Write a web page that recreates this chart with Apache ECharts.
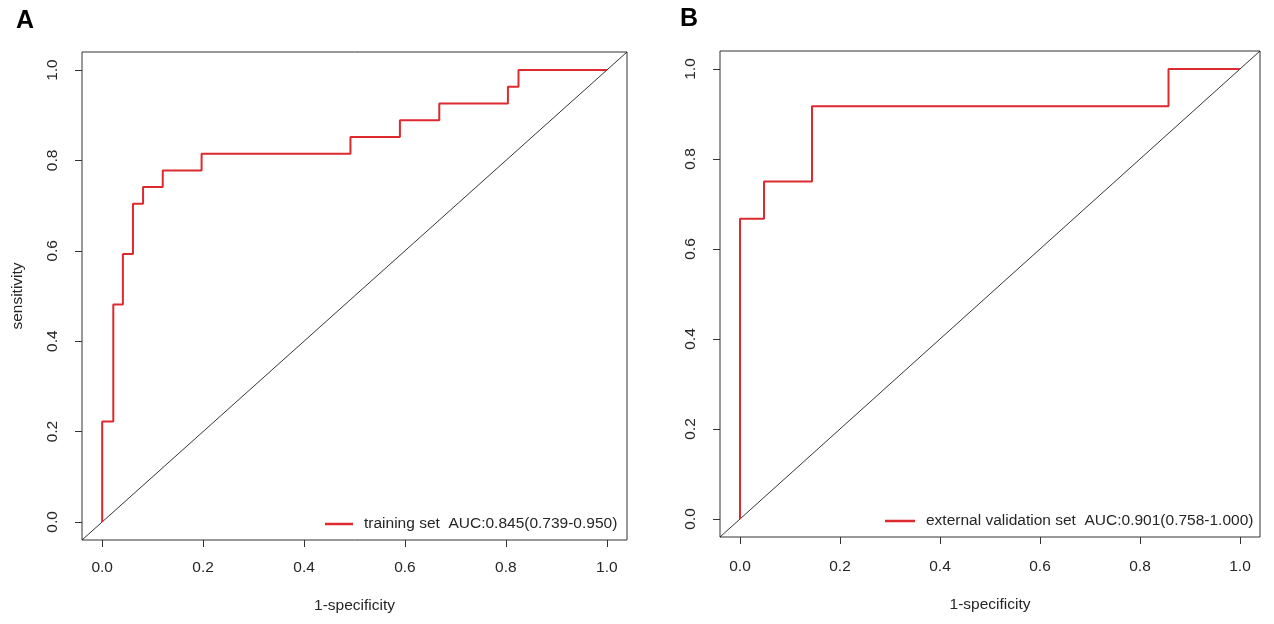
<!DOCTYPE html>
<html>
<head>
<meta charset="utf-8">
<title>ROC curves</title>
<script src="https://cdn.jsdelivr.net/npm/echarts@6/dist/echarts.min.js"></script>
<style>
  html, body { margin: 0; padding: 0; background: #fff; }
  #chart { width: 1274px; height: 624px; }
</style>
</head>
<body>
<div id="chart"></div>
<script>
// 训练集 ROC 曲线（1-特异度 / 灵敏度 的阶梯拐点）
const trainFpr = [0, 0, 0.022, 0.041, 0.061, 0.081, 0.12, 0.197, 0.492, 0.59, 0.668, 0.804, 0.825, 1.0];
const trainTpr = [0, 0.222, 0.481, 0.593, 0.704, 0.741, 0.778, 0.815, 0.852, 0.889, 0.926, 0.963, 1.0, 1.0];
// 外部验证集 ROC 曲线
const validFpr = [0, 0, 0.048, 0.144, 0.857, 1.0];
const validTpr = [0, 0.667, 0.75, 0.917, 1.0, 1.0];
// 参考对角线（跨越整个坐标范围）
const diagVals = [-0.04, 1.04];
// 刻度
const tickVals = [0, 0.2, 0.4, 0.6, 0.8, 1.0];
const trainName = 'training set  AUC:0.845(0.739-0.950)';
const validName = 'external validation set  AUC:0.901(0.758-1.000)';

const FONT = '"Liberation Sans", Arial, sans-serif';
const FS = 15.5;
const TXT = '#262626';
const ROC_RED = '#dc2a2e';

function pairs(xs, ys) {
    return xs.map((x, i) => [x, ys[i]]);
}

// 坐标轴模板：R 风格，外侧刻度，旋转的 y 轴标签
function xAxisOpt(gridIndex, labelMargin, nameGap) {
    return {
        type: 'value', gridIndex: gridIndex, min: -0.04, max: 1.04, position: 'bottom',
        name: '1-specificity', nameLocation: 'middle', nameGap: nameGap,
        nameTextStyle: { color: TXT, fontSize: FS, fontFamily: FONT },
        axisLine: { show: false, onZero: false },
        axisTick: { show: true, inside: false, length: 7, customValues: tickVals, lineStyle: { color: '#333', width: 1 } },
        axisLabel: { show: true, customValues: tickVals, margin: labelMargin, color: TXT, fontSize: FS, fontFamily: FONT,
                     formatter: v => v.toFixed(1) },
        splitLine: { show: false }
    };
}
function yAxisOpt(gridIndex, withName) {
    return {
        type: 'value', gridIndex: gridIndex, min: -0.04, max: 1.04, position: 'left',
        name: withName ? 'sensitivity' : '', nameLocation: 'middle', nameGap: 56,
        nameTextStyle: { color: TXT, fontSize: FS, fontFamily: FONT },
        axisLine: { show: false, onZero: false },
        axisTick: { show: true, inside: false, length: 7, customValues: tickVals, lineStyle: { color: '#333', width: 1 } },
        axisLabel: { show: true, customValues: tickVals, rotate: 90, margin: 21, color: TXT, fontSize: FS, fontFamily: FONT,
                     formatter: v => v.toFixed(1) },
        splitLine: { show: false }
    };
}

const chart = echarts.init(document.getElementById('chart'));
chart.setOption({
    animation: false,
    backgroundColor: '#fff',
    title: [
        { text: 'A', left: 11, top: 4, textStyle: { fontSize: 25, fontWeight: 'bold', color: '#000', fontFamily: FONT } },
        { text: 'B', left: 675, top: 2, textStyle: { fontSize: 25, fontWeight: 'bold', color: '#000', fontFamily: FONT } }
    ],
    grid: [
        { left: 82, top: 52, width: 545, height: 488, show: true, borderColor: '#333', borderWidth: 1, backgroundColor: 'transparent' },
        { left: 720, top: 51, width: 540, height: 486, show: true, borderColor: '#333', borderWidth: 1, backgroundColor: 'transparent' }
    ],
    xAxis: [xAxisOpt(0, 20, 58), xAxisOpt(1, 22, 60)],
    yAxis: [yAxisOpt(0, true), yAxisOpt(1, false)],
    legend: [
        { data: [trainName], left: 320, top: 510, itemWidth: 28, itemHeight: 2.5, icon: 'rect',
          textStyle: { color: TXT, fontSize: FS, fontFamily: FONT, padding: [0, 0, 0, 6], lineHeight: 18 } },
        { data: [validName], left: 880, top: 507, itemWidth: 30, itemHeight: 2.5, icon: 'rect',
          textStyle: { color: TXT, fontSize: FS, fontFamily: FONT, padding: [0, 0, 0, 6], lineHeight: 18 } }
    ],
    series: [
        { type: 'line', xAxisIndex: 0, yAxisIndex: 0, data: pairs(diagVals, diagVals), symbol: 'none', silent: true,
          lineStyle: { color: '#000', width: 0.8 } },
        { name: trainName, type: 'line', xAxisIndex: 0, yAxisIndex: 0, data: pairs(trainFpr, trainTpr), step: 'end',
          symbol: 'none', itemStyle: { color: ROC_RED }, lineStyle: { color: ROC_RED, width: 2 } },
        { type: 'line', xAxisIndex: 1, yAxisIndex: 1, data: pairs(diagVals, diagVals), symbol: 'none', silent: true,
          lineStyle: { color: '#000', width: 0.8 } },
        { name: validName, type: 'line', xAxisIndex: 1, yAxisIndex: 1, data: pairs(validFpr, validTpr), step: 'end',
          symbol: 'none', itemStyle: { color: ROC_RED }, lineStyle: { color: ROC_RED, width: 2 } }
    ]
});
</script>
</body>
</html>
